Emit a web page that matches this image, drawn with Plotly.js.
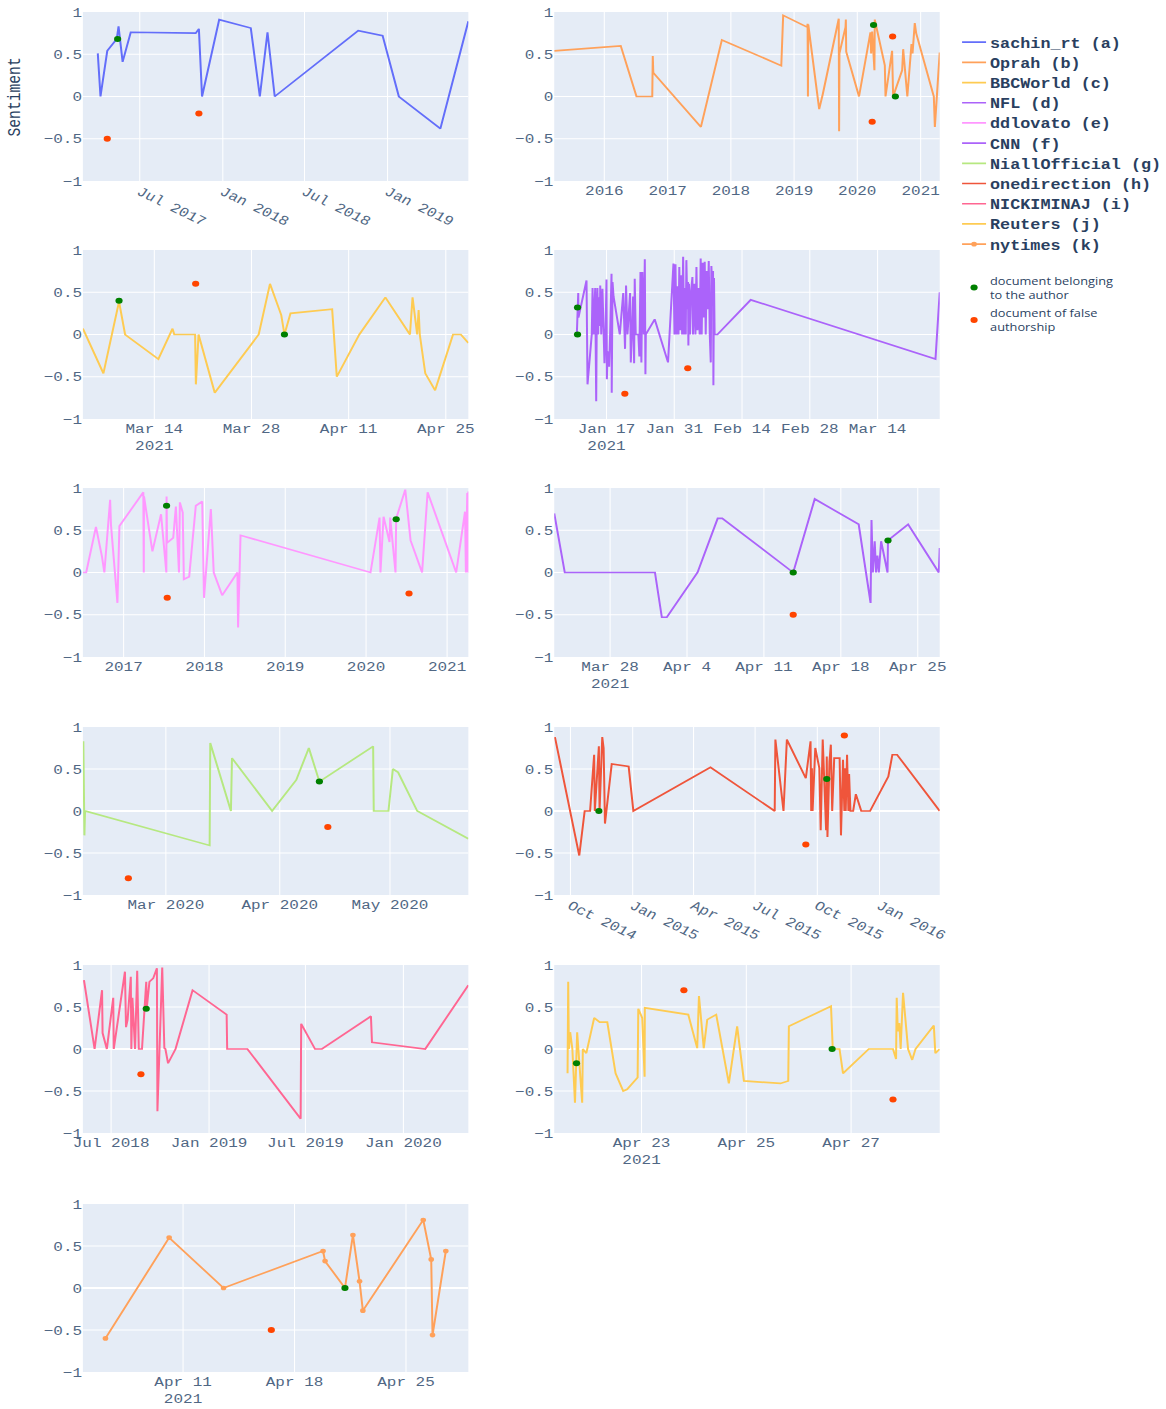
<!DOCTYPE html>
<html>
<head>
<meta charset="utf-8">
<script src="https://cdn.plot.ly/plotly-3.0.1.min.js"></script>
<style>
html,body{margin:0;padding:0;background:#fff;overflow:hidden;}
#wrap{width:1166px;height:1409px;overflow:hidden;position:relative;}
#chart{width:1458px;height:2114px;transform-origin:0 0;transform:scale(0.79973,0.66651);}
</style>
</head>
<body>
<div id="wrap"><div id="chart"></div></div>
<script>
// ---------------- DATA ----------------
// (a) sachin_rt
const sachinX = ['2017-03-30','2017-04-05','2017-04-20','2017-05-11','2017-05-15','2017-05-24','2017-06-11','2017-11-02','2017-11-09','2017-11-16','2017-12-24','2018-03-04','2018-03-24','2018-04-10','2018-04-26','2018-10-28','2018-12-21','2019-01-26','2019-04-28','2019-06-29'];
const sachinY = [0.51,0,0.54,0.68,0.83,0.41,0.76,0.75,0.80,0,0.91,0.81,0,0.76,0,0.78,0.72,0,-0.38,0.89];
const sachinAuthX = ['2017-05-13']; const sachinAuthY = [0.68];
const sachinFalseX = ['2017-04-20','2017-11-09']; const sachinFalseY = [-0.5,-0.2];
const sachinRange = ['2017-02-25','2019-06-29'];

// (b) Oprah
const oprahX = ['2015-03-18','2016-04-05','2016-07-05','2016-10-04','2016-10-07','2016-10-10','2017-07-12','2017-11-10','2018-10-19','2018-10-30','2019-03-18','2019-03-20','2019-03-22','2019-03-24','2019-05-26','2019-06-10','2019-06-16','2019-09-16','2019-09-18','2019-09-20','2019-10-25','2019-10-27','2019-10-29','2020-01-11','2020-03-17','2020-03-21','2020-03-27','2020-04-01','2020-04-09','2020-04-11','2020-06-08','2020-06-12','2020-07-20','2020-07-26','2020-09-16','2020-09-22','2020-10-16','2020-11-09','2020-11-15','2020-11-28','2020-12-06','2021-03-18','2021-03-24','2021-04-21'];
const oprahY = [0.54,0.60,0,0,0.48,0.28,-0.36,0.67,0.365,0.96,0.82,0.86,0,0.85,-0.15,0,0.03,0.92,-0.41,0.51,0.82,0.91,0.53,0,0.76,0.51,0.77,0.53,0.31,0.91,0.37,0,0.54,0,0.31,0.56,0,0.62,0.51,0.87,0.75,0,-0.36,0.52];
const oprahAuthX = ['2020-04-04','2020-08-08']; const oprahAuthY = [0.845,0];
const oprahFalseX = ['2020-03-27','2020-07-23']; const oprahFalseY = [-0.30,0.71];
const oprahRange = ['2015-03-18','2021-04-21'];

// (c) BBCWorld
const bbcX = ['2021-03-03 17:00','2021-03-06 16:00','2021-03-08 22:00','2021-03-09 19:00','2021-03-14 14:00','2021-03-16 15:00','2021-03-16 21:00','2021-03-19 21:00','2021-03-19 23:45','2021-03-20 09:00','2021-03-22 17:00','2021-03-29 01:00','2021-03-30 16:00','2021-04-01 07:00','2021-04-01 18:00','2021-04-02 15:00','2021-04-08 15:00','2021-04-09 07:00','2021-04-12 13:00','2021-04-16 07:00','2021-04-19 20:00','2021-04-20 05:00','2021-04-20 21:00','2021-04-21 02:00','2021-04-21 06:00','2021-04-22 01:00','2021-04-23 11:00','2021-04-26 01:00','2021-04-27 04:00','2021-04-28 06:00'];
const bbcY = [0.07,-0.46,0.39,0,-0.29,0.07,0,0,-0.59,0,-0.69,0,0.60,0.23,0,0.25,0.30,-0.50,0,0.44,0,0.44,0,0.29,0,-0.46,-0.66,0,0,-0.10];
const bbcAuthX = ['2021-03-08 22:00','2021-04-01 18:00']; const bbcAuthY = [0.40,0];
const bbcFalseX = ['2021-03-19 23:00']; const bbcFalseY = [0.60];
const bbcRange = ['2021-03-03 17:00','2021-04-28 06:00'];

// (d) NFL
const nflX = ['2021-01-10 21:00','2021-01-11 04:00','2021-01-11 05:00','2021-01-12 21:00','2021-01-13 02:00','2021-01-13 23:00','2021-01-14 03:00','2021-01-14 08:00','2021-01-14 16:00','2021-01-14 21:00','2021-01-15 00:15','2021-01-15 03:00','2021-01-15 07:00','2021-01-15 08:00','2021-01-15 15:00','2021-01-15 17:00','2021-01-15 22:00','2021-01-16 04:00','2021-01-16 14:00','2021-01-16 19:00','2021-01-17 00:00','2021-01-17 02:00','2021-01-17 05:00','2021-01-17 13:00','2021-01-17 18:00','2021-01-18 01:00','2021-01-18 02:00','2021-01-18 06:00','2021-01-18 11:00','2021-01-19 18:00','2021-01-20 11:00','2021-01-20 17:00','2021-01-20 20:00','2021-01-21 01:00','2021-01-21 08:00','2021-01-21 21:00','2021-01-22 00:30','2021-01-22 06:00','2021-01-22 12:00','2021-01-22 17:00','2021-01-22 20:00','2021-01-23 01:00','2021-01-23 14:00','2021-01-23 19:00','2021-01-24 00:30','2021-01-24 05:00','2021-01-24 10:00','2021-01-24 17:00','2021-01-24 22:00','2021-01-25 01:00','2021-01-25 03:00','2021-01-26 23:00','2021-01-29 17:00',
 '2021-01-30 20:00','2021-01-31 01:00','2021-01-31 06:00','2021-01-31 11:00','2021-01-31 16:00','2021-01-31 21:00','2021-02-01 01:00','2021-02-01 06:00','2021-02-01 10:00','2021-02-01 15:00','2021-02-01 20:00','2021-02-02 00:30','2021-02-02 06:00','2021-02-02 09:00','2021-02-02 12:00','2021-02-02 17:00','2021-02-02 20:00','2021-02-02 22:00','2021-02-03 01:00','2021-02-03 06:00','2021-02-03 11:00','2021-02-03 18:00','2021-02-03 21:00','2021-02-04 04:00','2021-02-04 09:00','2021-02-04 14:00','2021-02-04 19:00','2021-02-04 23:30','2021-02-05 06:00','2021-02-05 11:00','2021-02-05 16:00','2021-02-05 21:00','2021-02-06 02:00','2021-02-06 07:00','2021-02-06 12:00','2021-02-06 17:00','2021-02-06 22:00','2021-02-07 03:00','2021-02-07 08:00','2021-02-07 13:00','2021-02-07 16:00','2021-02-07 21:00','2021-02-08 00:15','2021-02-08 02:00','2021-02-08 05:00','2021-02-08 08:00','2021-02-08 22:00','2021-02-15 19:00','2021-03-25 23:00','2021-03-26 20:00'];
const nflY = [0,0.49,0.2,0.64,-0.59,0,0.55,0,0.55,-0.79,0.3,0.55,0,0.44,0.1,0.58,0,0.54,-0.34,0,0.65,-0.53,-0.2,-0.38,0,0.72,-0.69,0.62,0.45,0,0.49,0,-0.17,0.58,0,0.49,-0.33,0,0.45,-0.34,0.66,0,0,-0.26,0.74,-0.33,0.74,0,0.89,-0.47,0,0.18,-0.33,
 0.84,0,0.83,0,0.57,0,0.80,0.05,0.70,0,0.92,0,0.55,0,0.88,0.30,0.62,-0.13,0.60,0,0.50,0.68,0,0.60,0,0.80,0.05,0.55,0,0.90,0,0.85,0.20,0.86,0,0.75,0.30,0.87,0,-0.33,0.81,0.50,0.75,-0.60,0.67,0,0,0.41,-0.29,0.50];
const nflAuthX = ['2021-01-11 00:30','2021-01-11 00:30']; const nflAuthY = [0.32,0];
const nflFalseX = ['2021-01-20 19:00','2021-02-02 19:00']; const nflFalseY = [-0.70,-0.40];
const nflRange = ['2021-01-06 05:00','2021-03-26 20:00'];

// (e) ddlovato
const ddlX = ['2016-07-01','2016-07-16','2016-08-29','2016-09-25','2016-10-06','2016-11-01','2016-11-05','2016-12-04','2016-12-13','2017-03-31','2017-04-02','2017-04-03','2017-05-11','2017-06-19','2017-07-13','2017-07-14','2017-07-16','2017-08-13','2017-08-25','2017-09-08','2017-09-12','2017-09-25','2017-09-30','2017-10-24','2017-11-23','2017-12-22','2017-12-30','2018-01-30','2018-02-12','2018-03-22','2018-05-30','2018-06-02','2018-06-13','2020-01-21','2020-03-02','2020-03-06','2020-03-20','2020-04-16','2020-04-19','2020-05-13','2020-05-16','2020-06-26','2020-07-20','2020-09-10','2020-10-05','2021-02-11','2021-03-23','2021-03-27','2021-04-02','2021-04-05','2021-04-07'];
const ddlY = [0,0,0.54,0.19,0,0.86,0.56,-0.36,0.55,0.95,0,0.9,0.25,0.69,0,0.9,0.35,0.41,0.78,0,0.83,0.71,-0.08,-0.05,0.79,0.84,-0.30,0.75,0,-0.27,0,-0.65,0.44,0,0.65,0,0.66,0.36,0.65,0,0.64,0.98,0.38,0,0.95,0,0.72,0,0.94,0,0.96];
const ddlAuthX = ['2017-07-14','2020-05-16']; const ddlAuthY = [0.79,0.63];
const ddlFalseX = ['2017-07-17','2020-07-13']; const ddlFalseY = [-0.30,-0.25];
const ddlRange = ['2016-07-01','2021-04-07'];

// (f) CNN
const cnnX = ['2021-03-22 22:00','2021-03-23 21:00','2021-04-01 02:00','2021-04-01 17:00','2021-04-02 04:00','2021-04-04 23:00','2021-04-06 19:00','2021-04-07 05:00','2021-04-13 16:00','2021-04-15 15:00','2021-04-19 15:00','2021-04-20 17:00','2021-04-20 19:00','2021-04-20 22:00','2021-04-21 02:00','2021-04-21 05:00','2021-04-21 08:00','2021-04-21 11:00','2021-04-21 16:00','2021-04-22 00:00','2021-04-22 06:00','2021-04-22 07:00','2021-04-24 03:00','2021-04-26 22:00','2021-04-27 00:00'];
const cnnY = [0.70,0,0,-0.53,-0.53,0,0.64,0.64,0,0.87,0.57,-0.36,0.62,0,0.37,0,0.2,0,0.37,0.15,0,0.38,0.57,0,0.29];
const cnnAuthX = ['2021-04-13 16:00','2021-04-22 07:00']; const cnnAuthY = [0,0.38];
const cnnFalseX = ['2021-04-13 16:00']; const cnnFalseY = [-0.50];
const cnnRange = ['2021-03-22 22:00','2021-04-27 00:00'];

// (g) NiallOfficial
const niallX = ['2020-02-07 13:00','2020-02-07 20:00','2020-02-08 00:00','2020-03-12 22:00','2020-03-13 02:00','2020-03-18 17:00','2020-03-19 00:00','2020-03-29 22:00','2020-04-05 12:00','2020-04-08 22:00','2020-04-11 19:00','2020-04-26 10:00','2020-04-26 14:00','2020-04-30 14:00','2020-05-01 19:00','2020-05-03 05:00','2020-05-08 10:00','2020-05-22 08:00'];
const niallY = [0.83,-0.29,0,-0.41,0.81,0,0.63,0,0.37,0.75,0.35,0.77,0,0,0.50,0.46,0,-0.33];
const niallAuthX = ['2020-04-11 19:00']; const niallAuthY = [0.35];
const niallFalseX = ['2020-02-19 19:00','2020-04-14 02:00']; const niallFalseY = [-0.80,-0.19];
const niallRange = ['2020-02-07 10:00','2020-05-22 08:00'];

// (h) onedirection
const odX = ['2014-09-08','2014-10-14','2014-10-22','2014-10-30','2014-11-05','2014-11-06','2014-11-12','2014-11-13','2014-11-17','2014-11-19','2014-11-21','2014-12-01','2014-12-26','2015-01-02','2015-04-26','2015-07-30','2015-07-31','2015-08-12','2015-08-17','2015-09-14','2015-09-21','2015-09-22','2015-09-23','2015-09-24','2015-09-28','2015-10-04','2015-10-06','2015-10-09','2015-10-14','2015-10-15','2015-10-16','2015-10-19','2015-10-21','2015-10-23','2015-10-26','2015-11-03','2015-11-05','2015-11-08','2015-11-10','2015-11-11','2015-11-12','2015-11-14','2015-11-16','2015-11-17','2015-11-19','2015-11-23','2015-11-27','2015-12-05','2015-12-18','2016-01-14','2016-01-20','2016-01-27','2016-03-30'];
const odY = [0.88,-0.53,0,0,0.67,0,0.77,0,0.88,0.75,-0.15,0.56,0.53,0,0.52,0,0.85,0,0.85,0.39,0.83,0,0.51,0,0.75,0.51,-0.23,0.85,-0.23,0.65,-0.31,0.59,0.79,0,0.63,0.63,-0.29,0.61,0,0.51,0,0.67,0,0.44,0,0,0.20,0,0,0.41,0.67,0.67,0];
const odAuthX = ['2014-11-12','2015-10-15']; const odAuthY = [0,0.38];
const odFalseX = ['2015-09-14','2015-11-10']; const odFalseY = [-0.40,0.90];
const odRange = ['2014-09-07','2016-03-30'];

// (i) NICKIMINAJ
const nickiX = ['2018-05-11','2018-05-31','2018-06-14','2018-06-15','2018-06-23','2018-07-05','2018-07-06','2018-07-27','2018-07-29','2018-08-01','2018-08-07','2018-08-08','2018-08-10','2018-08-15','2018-08-19','2018-08-22','2018-08-28','2018-09-02','2018-09-05','2018-09-06','2018-09-11','2018-09-18','2018-09-25','2018-09-26','2018-10-05','2018-10-09','2018-10-11','2018-10-16','2018-10-30','2018-12-01','2019-02-03','2019-02-04','2019-03-14','2019-06-22','2019-06-23','2019-07-19','2019-08-01','2019-11-01','2019-11-03','2020-02-11','2020-05-02'];
const nickiY = [0.82,0,0.70,0.19,0,0.61,0,0.92,0.26,0.35,0.86,0,0.61,0,0.93,0,0,0.45,0.80,0.49,0.80,0.84,0.96,-0.74,0.97,0.01,0,-0.17,0,0.70,0.41,0,0,-0.83,0.30,0,0,0.39,0.08,0,0.76];
const nickiAuthX = ['2018-09-05']; const nickiAuthY = [0.48];
const nickiFalseX = ['2018-08-26']; const nickiFalseY = [-0.30];
const nickiRange = ['2018-05-09','2020-05-02'];

// (j) Reuters
const reutX = ['2021-04-21 14:06','2021-04-21 14:24','2021-04-21 14:42','2021-04-21 15:18','2021-04-21 16:18','2021-04-21 17:30','2021-04-21 18:30','2021-04-21 20:48','2021-04-21 21:06','2021-04-21 22:42','2021-04-22 02:18','2021-04-22 04:48','2021-04-22 08:18','2021-04-22 12:06','2021-04-22 15:36','2021-04-22 17:24','2021-04-22 22:12','2021-04-22 22:30','2021-04-23 00:18','2021-04-23 01:24','2021-04-23 01:30','2021-04-23 21:24','2021-04-24 01:30','2021-04-24 02:18','2021-04-24 04:30','2021-04-24 06:06','2021-04-24 10:12','2021-04-24 16:00','2021-04-24 19:48','2021-04-24 22:54','2021-04-25 15:36','2021-04-25 19:12','2021-04-25 19:30','2021-04-26 14:48','2021-04-26 15:36','2021-04-26 18:42','2021-04-26 20:18','2021-04-27 08:06','2021-04-27 19:12','2021-04-27 20:36','2021-04-27 20:54','2021-04-27 21:24','2021-04-27 22:06','2021-04-27 22:42','2021-04-27 23:48','2021-04-28 02:06','2021-04-28 04:00','2021-04-28 05:30','2021-04-28 13:54','2021-04-28 14:36','2021-04-28 16:36'];
const reutY = [-0.29,0.80,0,0.20,0,-0.64,0.20,-0.64,0,-0.05,0.37,0.32,0.32,-0.29,-0.50,-0.48,-0.34,0.48,0.37,-0.33,0.49,0.41,0.01,0.63,0.01,0.35,0.41,-0.41,0.27,-0.38,-0.41,-0.38,0.27,0.51,0,0,-0.29,0,0,-0.12,0.61,0.21,0.31,0,0.67,0,-0.13,0,0.28,-0.05,0];
const reutAuthX = ['2021-04-21 18:12','2021-04-26 15:18']; const reutAuthY = [-0.17,0];
const reutFalseX = ['2021-04-23 19:24','2021-04-27 19:12']; const reutFalseY = [0.70,-0.60];
const reutRange = ['2021-04-21 08:00','2021-04-28 16:36'];

// (k) nytimes
const nytX = ['2021-04-06 03:00','2021-04-10 03:00','2021-04-13 13:00','2021-04-19 19:00','2021-04-19 22:00','2021-04-21 04:00','2021-04-21 16:00','2021-04-22 02:00','2021-04-22 07:00','2021-04-26 02:00','2021-04-26 14:00','2021-04-26 16:00','2021-04-27 12:00'];
const nytY = [-0.60,0.60,0,0.44,0.32,0,0.63,0.08,-0.27,0.81,0.34,-0.56,0.44];
const nytAuthX = ['2021-04-21 04:00']; const nytAuthY = [0];
const nytFalseX = ['2021-04-16 13:00']; const nytFalseY = [-0.50];
const nytRange = ['2021-04-04 17:00','2021-04-28 22:00'];

const seriesNames = ['sachin_rt (a)','Oprah (b)','BBCWorld (c)','NFL (d)','ddlovato (e)','CNN (f)','NiallOfficial (g)','onedirection (h)','NICKIMINAJ (i)','Reuters (j)','nytimes (k)'];
const seriesColors = ['#636EFA','#FFA15A','#FECB52','#AB63FA','#FF97FF','#AB63FA','#B6E880','#EF553B','#FF6692','#FECB52','#FFA15A'];
const authorLabel = 'document belonging<br>to the author';
const falseLabel = 'document of false<br>authorship';
const yTitle = 'Sentiment';
const DAY = 86400000;
const tickSteps = ['M6','M12',14*DAY,14*DAY,'M12',7*DAY,'M1','M3','M6',2*DAY,7*DAY];
const tickAngles = [30,0,0,0,0,0,0,30,0,0,0];

// ---------------- BUILD ----------------
const panels = [
  [sachinX,sachinY,sachinAuthX,sachinAuthY,sachinFalseX,sachinFalseY,sachinRange],
  [oprahX,oprahY,oprahAuthX,oprahAuthY,oprahFalseX,oprahFalseY,oprahRange],
  [bbcX,bbcY,bbcAuthX,bbcAuthY,bbcFalseX,bbcFalseY,bbcRange],
  [nflX,nflY,nflAuthX,nflAuthY,nflFalseX,nflFalseY,nflRange],
  [ddlX,ddlY,ddlAuthX,ddlAuthY,ddlFalseX,ddlFalseY,ddlRange],
  [cnnX,cnnY,cnnAuthX,cnnAuthY,cnnFalseX,cnnFalseY,cnnRange],
  [niallX,niallY,niallAuthX,niallAuthY,niallFalseX,niallFalseY,niallRange],
  [odX,odY,odAuthX,odAuthY,odFalseX,odFalseY,odRange],
  [nickiX,nickiY,nickiAuthX,nickiAuthY,nickiFalseX,nickiFalseY,nickiRange],
  [reutX,reutY,reutAuthX,reutAuthY,reutFalseX,reutFalseY,reutRange],
  [nytX,nytY,nytAuthX,nytAuthY,nytFalseX,nytFalseY,nytRange]
];

// internal canvas (scaled by CSS to 1166x1409)
const W = 1458, H = 2114;
const OW = 1166, OH = 1409;
const FONT = '"Courier New", "Liberation Mono", monospace';
const TICKCOLOR = '#506784';
const colPx = [[83,469],[555,941]];
const rowPx = [[12,181],[250,419],[488,657],[727,895],[965,1133],[1204,1372]];

const data = [];
const layout = {
  width: W, height: H,
  margin: {l:0, r:0, t:0, b:0},
  paper_bgcolor: '#fff',
  plot_bgcolor: '#E5ECF6',
  font: {family: FONT, size: 20, color: '#2a3f5f'},
  showlegend: true,
  legend: {x: 0.8228, y: 0.9796, xanchor: 'left', yanchor: 'top', bgcolor: 'rgba(0,0,0,0)',
           font: {family: FONT, size: 21, color: '#2a3f5f', weight: 'bold'}, tracegroupgap: 0},
  legend2: {x: 0.8228, y: 0.8088, xanchor: 'left', yanchor: 'top', bgcolor: 'rgba(0,0,0,0)',
            font: {family: '"Open Sans", "Noto Sans", sans-serif', size: 16, color: '#2a3f5f'}, tracegroupgap: 4},
  annotations: [{
    text: yTitle, xref: 'paper', yref: 'paper', x: 16 / OW, y: 1 - 96.5 / OH,
    xanchor: 'center', yanchor: 'middle', textangle: -90, showarrow: false,
    font: {family: FONT, size: 22, color: '#2a3f5f'}
  }]
};

panels.forEach((p, i) => {
  const [x, y, ax, ay, fx, fy, rng] = p;
  const n = i + 1;
  const xa = 'x' + (n === 1 ? '' : n), ya = 'y' + (n === 1 ? '' : n);
  const row = Math.floor(i / 2), col = i % 2;
  const isNyt = i === 10;
  data.push({
    type: 'scatter', mode: isNyt ? 'lines+markers' : 'lines',
    x: x, y: y, xaxis: xa, yaxis: ya, name: seriesNames[i],
    line: {color: seriesColors[i], width: 2.5}, marker: {size: 7, color: seriesColors[i]},
    legend: 'legend', showlegend: true
  });
  data.push({
    type: 'scatter', mode: 'markers', x: ax, y: ay, xaxis: xa, yaxis: ya,
    name: authorLabel, legendgroup: 'auth', legend: 'legend2', showlegend: i === 0,
    marker: {color: 'green', size: 9}
  });
  data.push({
    type: 'scatter', mode: 'markers', x: fx, y: fy, xaxis: xa, yaxis: ya,
    name: falseLabel, legendgroup: 'false', legend: 'legend2', showlegend: i === 0,
    marker: {color: 'orangered', size: 9}
  });
  const xKey = 'xaxis' + (n === 1 ? '' : n), yKey = 'yaxis' + (n === 1 ? '' : n);
  const step = tickSteps[i];
  layout[xKey] = {
    type: 'date', range: rng, anchor: ya,
    domain: [colPx[col][0] / OW, colPx[col][1] / OW],
    dtick: step, tick0: (typeof step === 'string') ? '2000-01-01' : '2000-01-02',
    showgrid: true, gridcolor: '#fff', gridwidth: 1.3, zeroline: false, showline: false, ticks: '',
    tickangle: tickAngles[i], automargin: false,
    tickfont: {family: FONT, size: 20, color: TICKCOLOR}
  };
  layout[yKey] = {
    range: [-1, 1], dtick: 0.5, tick0: 0, anchor: xa,
    domain: [1 - rowPx[row][1] / OH, 1 - rowPx[row][0] / OH],
    showgrid: true, gridcolor: '#fff', gridwidth: 1.3,
    zeroline: true, zerolinecolor: '#fff', zerolinewidth: 2.5, showline: false, ticks: '',
    automargin: false,
    tickfont: {family: FONT, size: 20, color: TICKCOLOR}
  };
});

Plotly.newPlot('chart', data, layout, {displayModeBar: false, staticPlot: true});
</script>
</body>
</html>
